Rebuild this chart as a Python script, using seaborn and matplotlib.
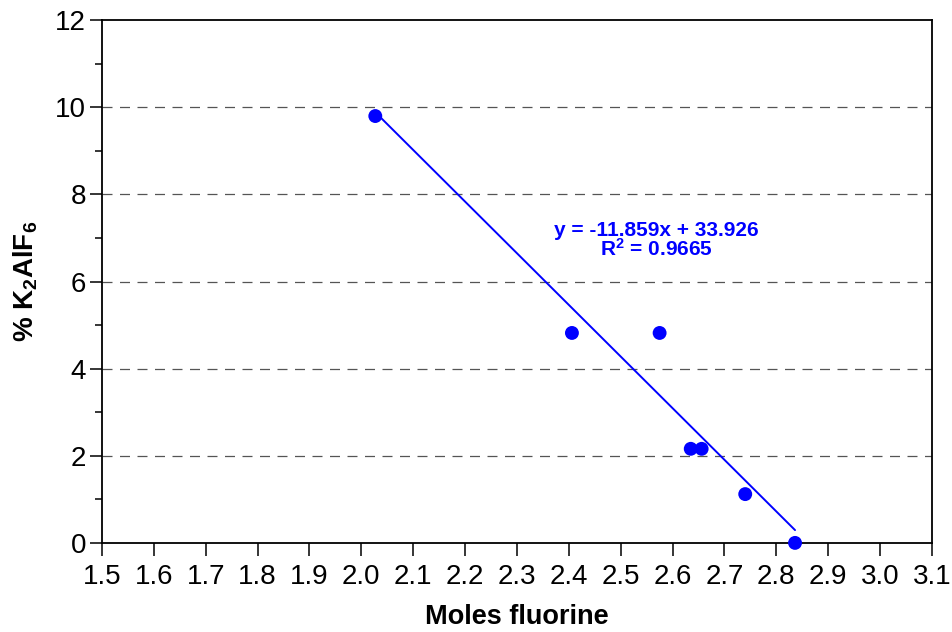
import numpy as np
import pandas as pd
import matplotlib
matplotlib.use("Agg")
import matplotlib.pyplot as plt
from matplotlib.ticker import MultipleLocator, FormatStrFormatter
import seaborn as sns

# Data
moles_fluorine = [2.027, 2.406, 2.575, 2.635, 2.656, 2.740, 2.836]
pct_k2alf6 = [9.80, 4.82, 4.82, 2.16, 2.16, 1.12, 0.0]
slope = -11.859
intercept = 33.926
r_squared = 0.9665

sns.set_style("ticks")
plt.rcParams['font.family'] = ['Liberation Sans', 'DejaVu Sans']
plt.rcParams['mathtext.fontset'] = 'custom'
plt.rcParams['mathtext.rm'] = 'Liberation Sans:bold'
plt.rcParams['mathtext.bf'] = 'Liberation Sans:bold'
plt.rcParams['mathtext.it'] = 'Liberation Sans:bold'
plt.rcParams['mathtext.default'] = 'bf'

df = pd.DataFrame({"x": moles_fluorine, "y": pct_k2alf6})
fit_x = np.array([min(moles_fluorine), max(moles_fluorine)])
fit_df = pd.DataFrame({"x": fit_x, "y": slope * fit_x + intercept})

fig = plt.figure(figsize=(9.52, 6.32), dpi=100)
ax = fig.add_axes([0.107, 0.141, 0.872, 0.827])

for yv in [2, 4, 6, 8, 10]:
    ax.axhline(yv, color="#555555", lw=0.9, ls=(0, (8, 6)), zorder=0)

sns.lineplot(data=fit_df, x="x", y="y", ax=ax, color="#0000FF", lw=1.4, zorder=2)
sns.scatterplot(data=df, x="x", y="y", ax=ax, color="#0000FF", s=100,
                edgecolor="none", zorder=3, clip_on=False)

ax.set_xlim(1.5, 3.1)
ax.set_ylim(0, 12)
ax.xaxis.set_major_locator(MultipleLocator(0.1))
ax.xaxis.set_major_formatter(FormatStrFormatter("%.1f"))
ax.yaxis.set_major_locator(MultipleLocator(2))
ax.yaxis.set_minor_locator(MultipleLocator(1))
ax.tick_params(axis="both", which="major", direction="out", length=9, width=1.1,
               labelsize=20, colors="black", labelcolor="black")
ax.tick_params(axis="y", which="minor", direction="out", length=5, width=1.1,
               color="black")
ax.tick_params(axis="x", pad=6)
ax.tick_params(axis="y", pad=2.5)

for sp in ax.spines.values():
    sp.set_visible(True)
    sp.set_color("black")
    sp.set_linewidth(1.3)

ax.set_xlabel("Moles fluorine", fontsize=19.5, fontweight="bold", color="black")
ax.set_ylabel("% K$_2$AlF$_6$", fontsize=20, fontweight="bold", color="black")
ax.xaxis.set_label_coords(0.5, -0.117)
ax.yaxis.set_label_coords(-0.075, 0.5)

ax.text(2.569, 6.95,
        f"y = {slope:.3f}x + {intercept:.3f}\nR$^2$ = {r_squared:.4f}",
        ha="center", va="center", color="#0000FF", fontsize=15,
        fontweight="bold", linespacing=0.9)

fig.savefig("out.png", dpi=100)
